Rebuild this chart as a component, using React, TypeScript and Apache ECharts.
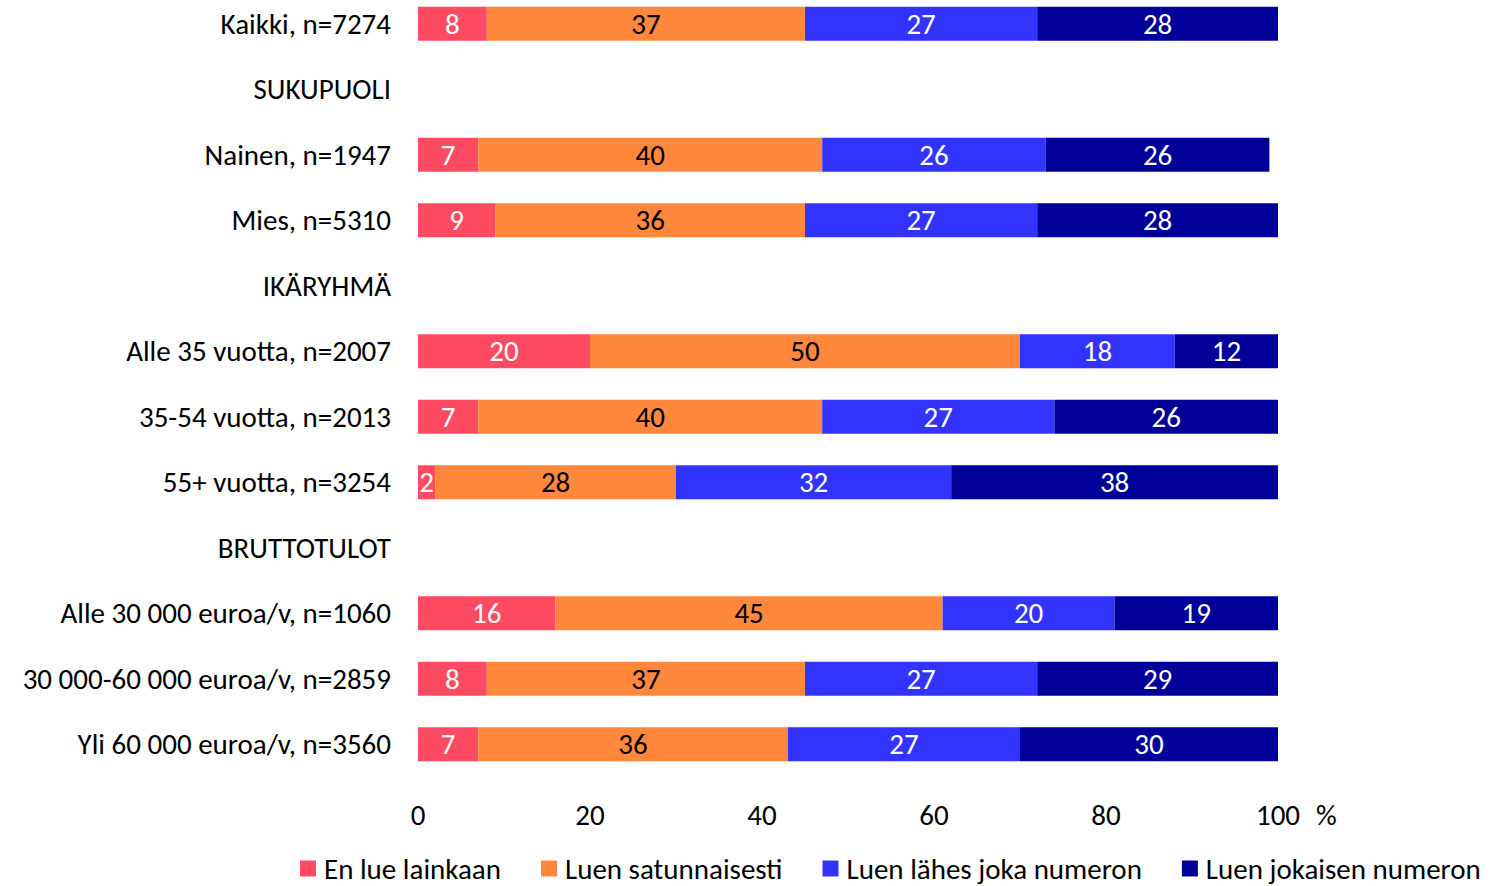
import React, { useEffect, useRef } from "react";
import * as echarts from "echarts";

const categories = [
  "Kaikki, n=7274",
  "SUKUPUOLI",
  "Nainen, n=1947",
  "Mies, n=5310",
  "IKÄRYHMÄ",
  "Alle 35 vuotta, n=2007",
  "35-54 vuotta, n=2013",
  "55+ vuotta, n=3254",
  "BRUTTOTULOT",
  "Alle 30 000 euroa/v, n=1060",
  "30 000-60 000 euroa/v, n=2859",
  "Yli 60 000 euroa/v, n=3560",
];

const seriesNames = [
  "En lue lainkaan",
  "Luen satunnaisesti",
  "Luen lähes joka numeron",
  "Luen jokaisen numeron",
];

const enLue = [8, null, 7, 9, null, 20, 7, 2, null, 16, 8, 7];
const satunnaisesti = [37, null, 40, 36, null, 50, 40, 28, null, 45, 37, 36];
const lahesJoka = [27, null, 26, 27, null, 18, 27, 32, null, 20, 27, 27];
const jokaisen = [28, null, 26, 28, null, 12, 26, 38, null, 19, 29, 30];

const xTicks = [0, 20, 40, 60, 80, 100];

const colors = ["#FF4B62", "#FF883D", "#3333FF", "#000099"];
const labelColors = ["#ffffff", "#000000", "#ffffff", "#ffffff"];

const FONT = "Carlito, Calibri, 'Open Sans', sans-serif";
const FS = 29;

export default function App() {
  const ref = useRef<HTMLDivElement>(null);

  useEffect(() => {
    if (!ref.current) return;
    const chart = echarts.init(ref.current, undefined, { renderer: "svg" });
    const dataSets = [enLue, satunnaisesti, lahesJoka, jokaisen];
    chart.setOption({
      animation: false,
      textStyle: { fontFamily: FONT },
      grid: { left: 418, right: 213, top: 0, bottom: 109, containLabel: false },
      xAxis: {
        type: "value",
        min: xTicks[0],
        max: xTicks[xTicks.length - 1],
        interval: 20,
        axisLine: { show: false },
        axisTick: { show: false },
        splitLine: { show: false },
        axisLabel: { fontSize: FS, color: "#000", margin: 23, fontFamily: FONT },
      },
      yAxis: {
        type: "category",
        data: categories,
        inverse: true,
        axisLine: { show: false },
        axisTick: { show: false },
        axisLabel: { fontSize: FS, color: "#000", margin: 27, fontFamily: FONT },
      },
      legend: {
        bottom: 3,
        left: 300,
        padding: 0,
        itemWidth: 16,
        itemHeight: 16,
        itemGap: 40,
        icon: "rect",
        textStyle: { fontSize: FS, color: "#000", fontFamily: FONT, padding: [0, 0, 0, 3] },
        data: seriesNames,
      },
      graphic: [
        {
          type: "text",
          left: 1316,
          top: 809,
          style: { text: "%", fontSize: FS, fill: "#000", fontFamily: FONT },
        },
      ],
      series: dataSets.map((d, i) => ({
        name: seriesNames[i],
        type: "bar",
        stack: "total",
        barWidth: 34,
        itemStyle: { color: colors[i] },
        label: {
          show: true,
          position: "inside",
          color: labelColors[i],
          fontSize: FS,
          fontFamily: FONT,
          formatter: (p: any) => (p.value == null ? "" : String(p.value)),
        },
        data: d.map((v) => (v == null ? "-" : v)),
      })),
    });
    return () => chart.dispose();
  }, []);

  return (
    <div
      ref={ref}
      style={{ position: "fixed", left: 0, top: -9, width: 1491, height: 895, background: "#fff" }}
    />
  );
}
